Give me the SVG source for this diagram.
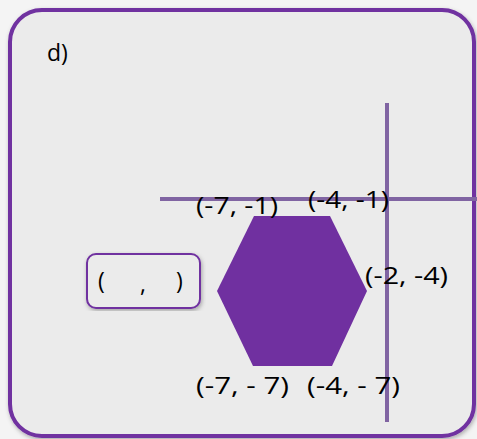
<svg xmlns="http://www.w3.org/2000/svg" width="477" height="439" viewBox="0 0 477 439">
<defs>
<style>
.t{font-family:"Open Sans","DejaVu Sans",sans-serif;font-size:23px;fill:#000}
.ax{stroke:#8064a2;stroke-width:4;fill:none}
</style>
<filter id="sh" x="-5%" y="-5%" width="110%" height="110%"><feDropShadow dx="1" dy="2" stdDeviation="2" flood-color="#000" flood-opacity="0.3"/></filter>
</defs>
<rect x="0" y="0" width="477" height="439" fill="#f4f4f4"/>
<g id="frame"><rect x="10" y="10" width="464" height="426" rx="32" fill="#ebebeb" stroke="#7030a0" stroke-width="4" filter="url(#sh)"/></g>
<text class="t" x="47" y="61">d)</text>
<g id="connectors">
<line class="ax" x1="160" y1="199" x2="477" y2="199"/>
<line class="ax" x1="387" y1="103" x2="387" y2="422"/>
</g>
<g id="hexagon"><polygon points="254,216 330,216 367,291 332,366 253,366 217,291" fill="#7030a0"/></g>
<g id="answer-box"><rect x="87" y="254" width="113" height="54" rx="9" fill="#ebebeb" stroke="#7030a0" stroke-width="2" filter="url(#sh)"/>
<text class="t" x="98" y="289">(</text><text class="t" x="140" y="292">,</text><text class="t" x="176" y="289">)</text></g>
<g id="labels">
<text class="t" x="196" y="214" textLength="82" lengthAdjust="spacingAndGlyphs">(-7, -1)</text>
<text class="t" x="308" y="208" textLength="81" lengthAdjust="spacingAndGlyphs">(-4, -1)</text>
<text class="t" x="365" y="284" textLength="83" lengthAdjust="spacingAndGlyphs">(-2, -4)</text>
<text class="t" x="196" y="394" textLength="93" lengthAdjust="spacingAndGlyphs">(-7, - 7)</text>
<text class="t" x="307" y="394" textLength="93" lengthAdjust="spacingAndGlyphs">(-4, - 7)</text>
</g>
</svg>
